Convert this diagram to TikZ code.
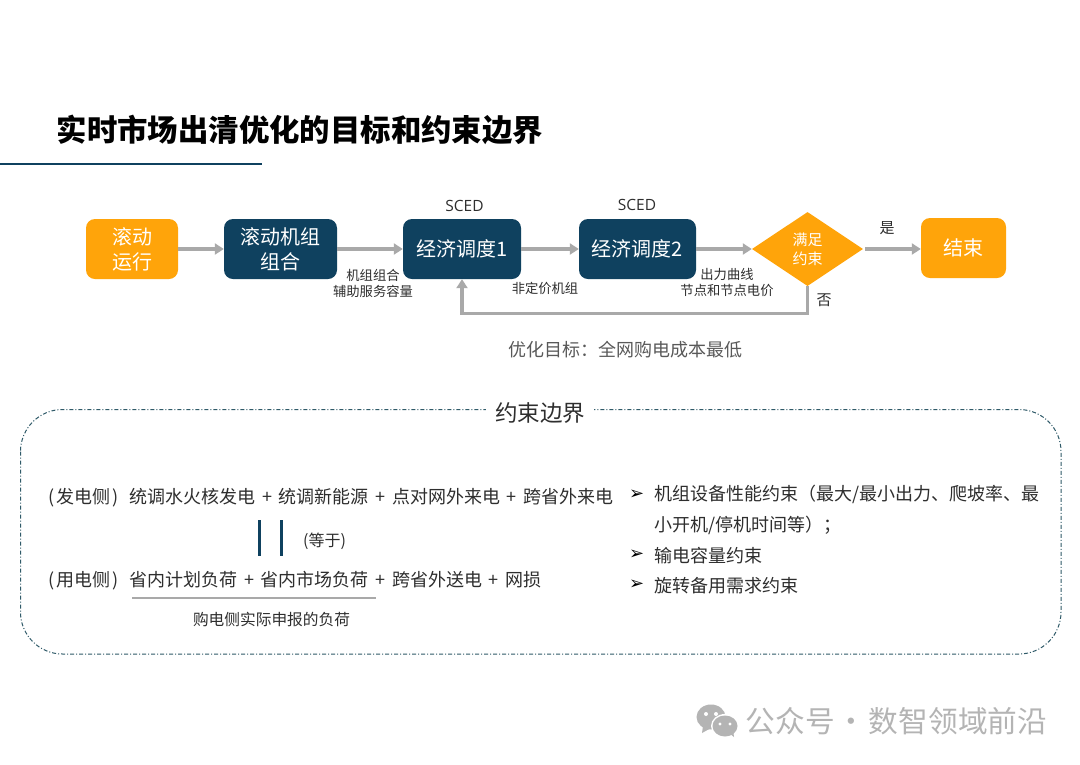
\documentclass[tikz,border=0pt]{standalone}
\usepackage{fontspec}
\setmainfont{Noto Sans CJK SC}
\newfontfamily\opensans{Open Sans}
\newfontfamily\dejavu{DejaVu Sans}
\usetikzlibrary{arrows.meta,shapes.geometric}
\definecolor{navy}{HTML}{0F415F}
\definecolor{amber}{HTML}{FFA40A}
\definecolor{arrowgrey}{HTML}{A9A9A9}
\definecolor{ink}{HTML}{2E2E2E}
\definecolor{softink}{HTML}{595959}
\definecolor{markgrey}{HTML}{B4B4B4}
\definecolor{dashc}{HTML}{2F5A68}
\newcommand{\fs}[1]{\fontsize{#1}{#1}\selectfont}
\newcommand{\plusgap}{\hspace{6.7pt}+\hspace{6.7pt}}
\tikzset{
  box/.style={rounded corners=9pt,inner sep=0pt,align=center,text=white,font=\fs{20}\linespread{1.24}\selectfont},
  navybox/.style={box,fill=navy},
  amberbox/.style={box,fill=amber},
  flow/.style={draw=arrowgrey,line width=3.2pt,-{Triangle[length=9pt,width=11pt]}},
  lbl/.style={inner sep=0pt,text=ink,align=center},
  eqn/.style={inner sep=0pt,text=ink,anchor=west,font=\fs{18}},
  bullet/.style={inner sep=0pt,text=black,anchor=west,font=\dejavu\fs{18}},
}
\begin{document}
\begin{tikzpicture}[x=1pt,y=-1pt]
\useasboundingbox (0,0) rectangle (1080,764);
\fill[white] (0,0) rectangle (1080,764);
% title
\node[inner sep=0pt,anchor=west,text=black,font=\fs{30.4}\bfseries] (title) at (56.5,130) {实时市场出清优化的目标和约束边界};
\coordinate (ruleA) at (0,164);
\coordinate (ruleB) at (262,164);
\draw[navy,line width=1.5pt] (ruleA) -- (ruleB);
% flow
\node[amberbox,minimum width=92pt,minimum height=60pt] (start) at (132,249) {滚动\\运行};
\node[navybox,minimum width=113pt,minimum height=60pt] (uc) at (280.5,249) {滚动机组\\组合};
\node[navybox,minimum width=118pt,minimum height=60pt] (e1) at (462,249) {经济调度1};
\node[navybox,minimum width=117pt,minimum height=60pt] (e2) at (637.5,249) {经济调度2};
\node[diamond,fill=amber,inner sep=0pt,aspect=1.5,minimum width=111pt,minimum height=74pt,text=white,align=center,font=\fs{15}\linespread{1.25}\selectfont] (dec) at (807.5,249) {满足\\约束};
\node[amberbox,minimum width=85pt,minimum height=60pt] (end) at (963.5,248) {结束};
\draw[flow] (start) -- (uc);
\draw[flow] (uc) -- (e1);
\draw[flow] (e1) -- (e2);
\draw[flow] (e2) -- (dec);
\draw[flow,shorten <=2pt] (dec.east) -- (dec.east -| end.west);
\draw[flow] (dec.south) -- ++(0,27) -| (e1.south);
% labels
\node[lbl,font=\opensans\fs{15.5}] (s1) at (464.5,205.5) {SCED};
\node[lbl,font=\opensans\fs{15.5}] (s2) at (637,204.5) {SCED};
\node[lbl,font=\fs{13.3}\linespread{1.2}\selectfont] (l1) at (373,283) {机组组合\\辅助服务容量};
\node[lbl,font=\fs{13.3}] (l2) at (545,288) {非定价机组};
\node[lbl,font=\fs{13.3}\linespread{1.2}\selectfont] (l3) at (727,282) {出力曲线\\节点和节点电价};
\node[lbl,font=\fs{15}] (yes) at (887,228) {是};
\node[lbl,font=\fs{15}] (no) at (824,300) {否};
\node[inner sep=0pt,text=softink,font=\fs{18}] (goal) at (625,350) {优化目标：全网购电成本最低};
% constraint frame
\draw[dashc,line width=1pt,dash pattern=on 4pt off 2pt on 1pt off 2pt,rounded corners=42pt] (20.5,409.5) rectangle (1061,654);
\node[fill=white,inner xsep=9pt,inner ysep=2pt,text=ink,font=\fs{22.5}] (frame) at (540,413) {约束边界};
% balance
\node[eqn] (gen) at (48,497.5) {(\hspace{2pt}发电侧\hspace{2pt})\hspace{11pt}统调水火核发电\plusgap 统调新能源\plusgap 点对网外来电\plusgap 跨省外来电};
\node[eqn] (load) at (48,580.5) {(\hspace{2pt}用电侧\hspace{2pt})\hspace{11pt}省内计划负荷\plusgap 省内市场负荷\plusgap 跨省外送电\plusgap 网损};
\coordinate (barAt) at (259,520); \coordinate (barAb) at (259,556);
\coordinate (barBt) at (281,520); \coordinate (barBb) at (281,556);
\draw[navy,line width=3pt] (barAt) -- (barAb);
\draw[navy,line width=3pt] (barBt) -- (barBb);
\node[lbl,font=\fs{16}] (eq) at (324.5,541) {(等于)};
\coordinate (ulA) at (132,598); \coordinate (ulB) at (376,598);
\draw[arrowgrey,line width=2.8pt] (ulA) -- (ulB);
\node[lbl,font=\fs{15.7}] (bid) at (271.5,619) {购电侧实际申报的负荷};
% list
\node[bullet] (m1) at (629,495) {➢};
\node[eqn] (c1) at (654,494.5) {机组设备性能约束（最大/最小出力、爬坡率、最};
\node[eqn] (c1b) at (654,525.5) {小开机/停机时间等）；};
\node[bullet] (m2) at (629,555) {➢};
\node[eqn] (c2) at (654,555.5) {输电容量约束};
\node[bullet] (m3) at (629,585) {➢};
\node[eqn] (c3) at (654,585.5) {旋转备用需求约束};
% watermark
\fill[markgrey] (711,717) ellipse [x radius=14.5,y radius=12.5];
\fill[markgrey] (703,726) -- (702,733) -- (711,728) -- cycle;
\fill[white] (706,714) circle (2); \fill[white] (716,714) circle (2);
\fill[white] (725,726) ellipse [x radius=14,y radius=12];
\fill[markgrey] (725,726) ellipse [x radius=12.5,y radius=10.5];
\fill[markgrey] (729,733) -- (734,737) -- (733,729) -- cycle;
\fill[white] (720,724) circle (1.7); \fill[white] (730,724) circle (1.7);
\node[inner sep=0pt,anchor=west,text=markgrey,font=\fs{29.7}] (mark) at (745.5,721) {公众号\hspace{2pt}·\hspace{2.5pt}数智领域前沿};
\end{tikzpicture}
\end{document}
